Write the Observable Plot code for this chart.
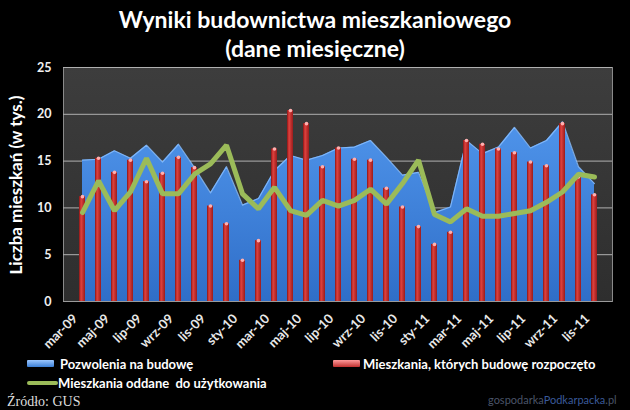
<!DOCTYPE html>
<html><head><meta charset="utf-8">
<script src="https://cdn.jsdelivr.net/npm/d3@7"></script>
<script src="https://cdn.jsdelivr.net/npm/@observablehq/plot@0.6"></script>
<style>
html,body{margin:0;padding:0;background:#000;}
body{width:630px;height:410px;overflow:hidden;position:relative;font-family:Lato,"Open Sans",sans-serif;color:#fff;}
#title{position:absolute;left:0;top:5px;width:630px;text-align:center;font-weight:bold;font-size:23px;line-height:29px;color:#fff;}
#chart{position:absolute;left:0;top:60px;}
#ylab{position:absolute;left:15px;top:185px;transform:translate(-50%,-50%) rotate(-90deg);white-space:nowrap;font-weight:bold;font-size:17px;color:#fff;}
.leg{position:absolute;font-weight:bold;font-size:13px;color:#fff;white-space:nowrap;line-height:16px;}
.sw{position:absolute;}
#src{position:absolute;left:7px;top:394px;font-family:"Liberation Serif",serif;font-size:14px;color:#ddd;}
#wm{position:absolute;left:488px;top:393px;font-size:11px;color:#4a5468;}
</style></head>
<body>
<div id="title">Wyniki budownictwa mieszkaniowego<br>(dane miesięczne)</div>
<div id="chart"></div>
<div id="ylab">Liczba mieszkań (w tys.)</div>
<div class="sw" style="left:27px;top:360px;width:27px;height:7px;background:linear-gradient(#9cc8ff,#3b7fd6);border-radius:1px;"></div>
<div class="leg" style="left:60px;top:356px;">Pozwolenia na budowę</div>
<div class="sw" style="left:333px;top:360px;width:27px;height:7px;background:linear-gradient(#ff9b9b,#c0302f);border-radius:1px;"></div>
<div class="leg" style="left:363px;top:356px;">Mieszkania, których budowę rozpoczęto</div>
<div class="sw" style="left:27px;top:381px;width:31px;height:4px;background:#9bbb59;border-radius:2px;"></div>
<div class="leg" style="left:58px;top:375px;">Mieszkania oddane&nbsp; do użytkowania</div>
<div id="src">Źródło: GUS</div>
<div id="wm">gospodarka<span style="color:#3a5a9a">Podkarpacka</span>.pl</div>
<script>
const months = ["mar-09","kwi-09","maj-09","cze-09","lip-09","sie-09","wrz-09","paź-09","lis-09","gru-09",
  "sty-10","lut-10","mar-10","kwi-10","maj-10","cze-10","lip-10","sie-10","wrz-10","paź-10","lis-10","gru-10",
  "sty-11","lut-11","mar-11","kwi-11","maj-11","cze-11","lip-11","sie-11","wrz-11","paź-11","lis-11"];
const pozwolenia = [15.1,15.2,16.1,15.3,16.7,14.9,16.8,14.3,11.6,14.4,10.3,11.0,14.0,15.6,15.1,15.6,16.4,16.5,17.2,15.4,13.5,13.8,9.5,10.1,17.2,15.8,16.5,18.6,16.4,17.2,19.2,14.4,12.6];
const rozpoczete = [11.2,15.3,13.8,15.1,12.8,13.7,15.4,14.3,10.2,8.3,4.4,6.5,16.3,20.4,19.0,14.4,16.4,15.2,15.1,12.1,10.1,8.0,6.1,7.4,17.2,16.8,16.3,15.9,14.9,14.5,19.0,13.3,11.4];
const oddane = [9.5,12.9,9.7,11.7,15.3,11.5,11.5,13.6,14.7,16.7,11.5,9.9,12.2,9.7,9.2,10.8,10.2,10.8,12.0,10.4,12.6,15.1,9.3,8.5,9.9,9.1,9.1,9.4,9.7,10.6,11.7,13.6,13.3];
const yTicks = [0,5,10,15,20,25];

const data = months.map((m,i)=>({m, p:pozwolenia[i], r:rozpoczete[i], o:oddane[i]}));

const chart = Plot.plot({
  width:630, height:280,
  marginTop:7, marginBottom:39, marginLeft:63, marginRight:18,
  style:{background:"transparent", color:"#fff", fontFamily:"Lato, sans-serif", fontSize:"12px", fontWeight:"bold", overflow:"visible"},
  x:{type:"band", domain:months, padding:0, label:null, tickSize:0, tickRotate:-45, tickPadding:12,
     tickFormat:(d)=> (months.indexOf(d)%2===0 ? d : "")},
  y:{domain:[0,25], ticks:yTicks, label:null, tickSize:0, tickPadding:12},
  marks:[
    Plot.frame({fill:"url(#bgGrad)", stroke:"#8a8a8a"}),
    Plot.ruleY(yTicks.filter(d=>d>0),{stroke:"#b0b0b0", strokeWidth:1}),
    Plot.areaY(data,{x:"m", y:"p", fill:"url(#blueGrad)"}),
    Plot.lineY(data,{x:"m", y:"p", stroke:"#8cc0ff", strokeWidth:1.2, strokeOpacity:0.8}),
    Plot.barY(data,{x:"m", y:"r", fill:"url(#redGrad)", insetLeft:5, insetRight:5}),
    Plot.dot(data,{x:"m", y:"r", r:1.8, fill:"#ffb0b0", stroke:null}),
    Plot.lineY(data,{x:"m", y:"o", stroke:"#9bbb59", strokeWidth:5, strokeLinejoin:"miter"}),
    Plot.ruleY([0],{stroke:"#9a9a9a"})
  ]
});

const defs = d3.select(chart).insert("defs", ":first-child");
const bg = defs.append("linearGradient").attr("id","bgGrad").attr("x1",0).attr("y1",0).attr("x2",0).attr("y2",1);
bg.append("stop").attr("offset","0%").attr("stop-color","#3d3d3d");
bg.append("stop").attr("offset","100%").attr("stop-color","#2e2e2e");
const bl = defs.append("linearGradient").attr("id","blueGrad").attr("x1",0).attr("y1",0).attr("x2",0).attr("y2",1);
bl.append("stop").attr("offset","0%").attr("stop-color","#4f94ea");
bl.append("stop").attr("offset","100%").attr("stop-color","#2f6ec8");
const rd = defs.append("linearGradient").attr("id","redGrad").attr("x1",0).attr("y1",0).attr("x2",1).attr("y2",0);
rd.append("stop").attr("offset","0%").attr("stop-color","#8c1414");
rd.append("stop").attr("offset","35%").attr("stop-color","#e0423f");
rd.append("stop").attr("offset","100%").attr("stop-color","#9a1c1c");
const xg = d3.select(chart).select("[aria-label='x-axis tick label']");
xg.attr("transform", (xg.attr("transform") || "") + " translate(-7,3)");
xg.selectAll("text").attr("fill","#e8e8e8").style("font-size","13px");
d3.select(chart).selectAll("[aria-label='y-axis tick label'] text").attr("fill","#f0f0f0").style("font-size","12.5px");
document.getElementById("chart").appendChild(chart);
</script>
</body></html>
